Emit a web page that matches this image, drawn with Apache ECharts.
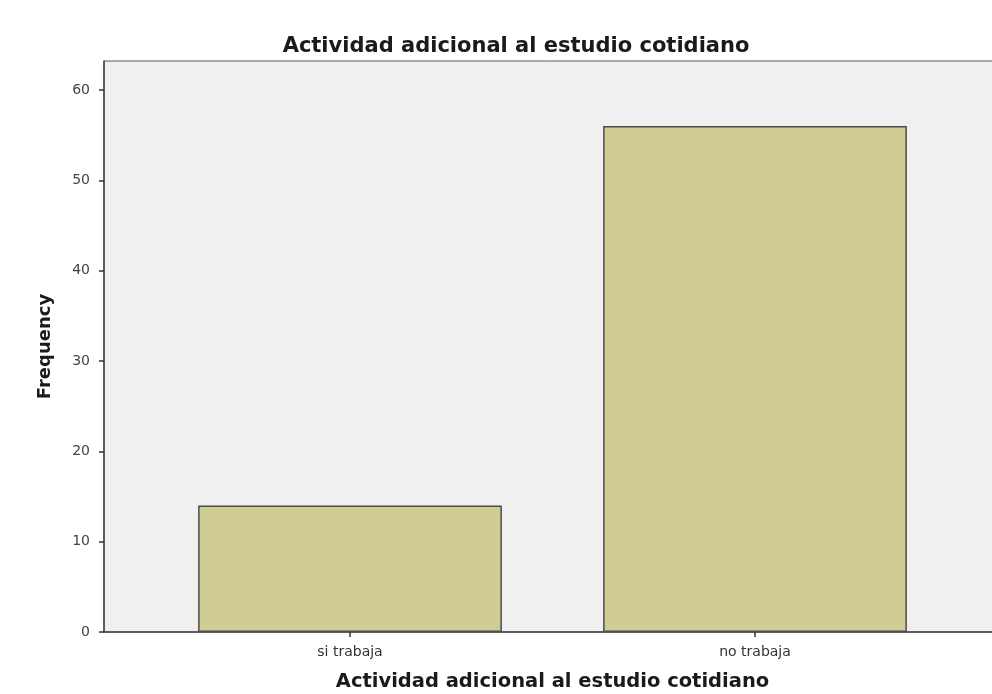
<!DOCTYPE html>
<html>
<head>
<meta charset="utf-8">
<script src="https://cdn.jsdelivr.net/npm/echarts@6/dist/echarts.min.js"></script>
<style>
html,body{margin:0;padding:0;background:#fff;}
#chart{width:992px;height:694px;}
</style>
</head>
<body>
<div id="chart"></div>
<script>
const categories = ['si trabaja', 'no trabaja'];
const frequencies = [14, 56];
const yTicks = [0, 10, 20, 30, 40, 50, 60];
const titleText = 'Actividad adicional al estudio cotidiano';
const xAxisName = 'Actividad adicional al estudio cotidiano';
const yAxisName = 'Frequency';

const yMax = 63.2;
const chart = echarts.init(document.getElementById('chart'));
chart.setOption({
  animation: false,
  backgroundColor: '#ffffff',
  title: {
    text: titleText,
    left: 511,
    top: 31,
    textAlign: 'center',
    textStyle: { fontFamily: 'DejaVu Sans', fontWeight: 'bold', fontSize: 21, color: '#1a1a1a' }
  },
  grid: [
    { left: 104, top: 61, right: -2, bottom: 62, outerBoundsMode: 'none', containLabel: false,
      show: true, backgroundColor: '#f0f0f0', borderColor: '#5a5a5a', borderWidth: 1 },
    { left: 147.5, top: 61, right: 34.5, bottom: 62, outerBoundsMode: 'none', containLabel: false }
  ],
  xAxis: [
    { gridIndex: 0, type: 'value', min: 0, max: 1,
      axisLine: { show: true, lineStyle: { color: '#444', width: 1.5 } },
      axisTick: { show: false }, axisLabel: { show: false }, splitLine: { show: false } },
    { gridIndex: 1, type: 'category', data: categories,
      axisLine: { show: false },
      axisTick: { show: true, alignWithLabel: true, length: 5, lineStyle: { color: '#333', width: 1.5 } },
      axisLabel: { margin: 13, fontFamily: 'DejaVu Sans', fontSize: 14, color: '#333' },
      name: xAxisName, nameLocation: 'middle', nameGap: 40,
      nameTextStyle: { fontFamily: 'DejaVu Sans', fontWeight: 'bold', fontSize: 19.5, color: '#1a1a1a' } }
  ],
  yAxis: [
    { gridIndex: 0, type: 'value', min: 0, max: yMax,
      axisLine: { show: true, lineStyle: { color: '#444', width: 1.5 } },
      axisTick: { show: true, length: 5, customValues: yTicks, lineStyle: { color: '#333', width: 1.5 } },
      axisLabel: { customValues: yTicks, margin: 14, fontFamily: 'DejaVu Sans', fontSize: 14, color: '#444' },
      splitLine: { show: false },
      name: yAxisName, nameLocation: 'middle', nameGap: 50, nameRotate: 90,
      nameTextStyle: { fontFamily: 'DejaVu Sans', fontWeight: 'bold', fontSize: 18, color: '#1a1a1a' } },
    { gridIndex: 1, type: 'value', min: 0, max: yMax, show: false }
  ],
  series: [{
    type: 'bar',
    xAxisIndex: 1, yAxisIndex: 1,
    data: frequencies,
    barCategoryGap: '25%',
    itemStyle: { color: '#cfcc94', borderColor: '#4d4d4d', borderWidth: 1.5 }
  }]
});
</script>
</body>
</html>
